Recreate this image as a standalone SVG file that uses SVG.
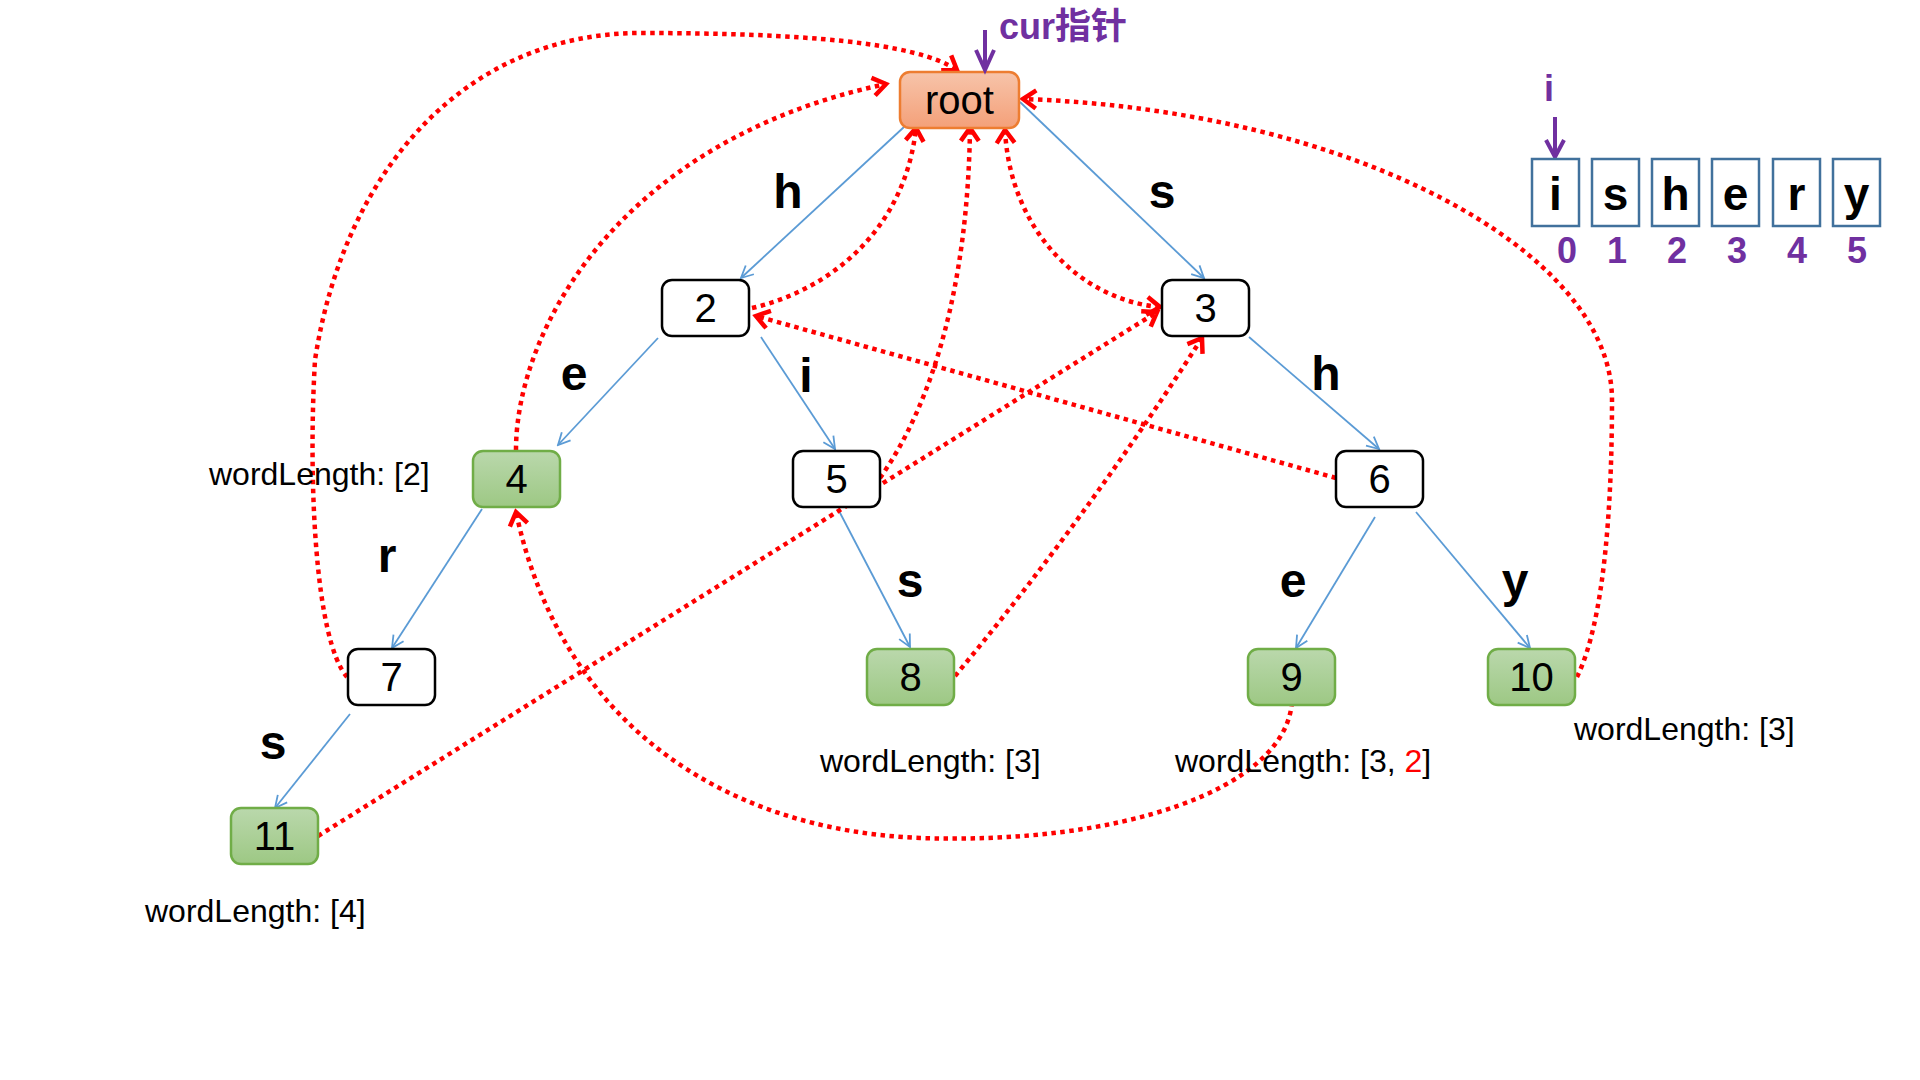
<svg xmlns="http://www.w3.org/2000/svg" width="1920" height="1080" viewBox="0 0 1920 1080">
<defs>
<style>
.node rect{stroke-width:2.5}
.plain{fill:#fff;stroke:#000}
.leaf{fill:url(#gGreen);stroke:#70AD47}
.rootbox{fill:url(#gRoot);stroke:#ED7D31}
.nlabel{font-family:"Liberation Sans",Arial,sans-serif;font-size:40px;text-anchor:middle;fill:#000}
.elabel{font-family:"Liberation Sans",Arial,sans-serif;font-size:48px;font-weight:bold;text-anchor:middle;fill:#000}
.wl{font-family:"Liberation Sans",Arial,sans-serif;font-size:32px;fill:#000}
.tree{fill:none;stroke:#5B9BD5;stroke-width:1.8;marker-end:url(#blueArrow)}
.fail{fill:none;stroke:#FF0000;stroke-width:4.5;stroke-dasharray:4.5 4.5;marker-end:url(#redArrow)}
.purple{fill:#7030A0;font-family:"Liberation Sans",Arial,"Noto Sans CJK SC",sans-serif;font-weight:bold}
.parrow{fill:none;stroke:#7030A0;stroke-width:4}
.cell{fill:#fff;stroke:#41719C;stroke-width:2.5}
.ch{font-family:"Liberation Sans",Arial,sans-serif;font-size:46px;font-weight:bold;text-anchor:middle;fill:#000}
.idx{font-size:36px;text-anchor:middle}
</style>
<linearGradient id="gRoot" x1="0" y1="0" x2="0" y2="1">
<stop offset="0" stop-color="#F7C4AA"/>
<stop offset="1" stop-color="#F4A079"/>
</linearGradient>
<linearGradient id="gGreen" x1="0" y1="0" x2="0" y2="1">
<stop offset="0" stop-color="#BAD8AC"/>
<stop offset="1" stop-color="#9DC884"/>
</linearGradient>
<marker id="blueArrow" markerUnits="userSpaceOnUse" viewBox="-14 -8 16 16" markerWidth="16" markerHeight="16" refX="0" refY="0" orient="auto">
<path d="M-12,-6 L0,0 L-12,6" fill="none" stroke="#5B9BD5" stroke-width="1.8" stroke-dasharray="none"/>
</marker>
<marker id="redArrow" markerUnits="userSpaceOnUse" viewBox="-18 -12 22 24" markerWidth="22" markerHeight="24" refX="0" refY="0" orient="auto-start-reverse">
<path d="M-13,-9 L0,0 L-13,9" fill="none" stroke="#FF0000" stroke-width="4.5" stroke-dasharray="none"/>
</marker>
</defs>
<rect width="1920" height="1080" fill="#fff"/>

<g id="connectors">
<g id="tree-edges">
<path class="tree" d="M904,127 L741,278"/>
<path class="tree" d="M1020,102 L1204,278"/>
<path class="tree" d="M658,338 L558,445"/>
<path class="tree" d="M761,337 L835,449"/>
<path class="tree" d="M1249,337 L1379,449"/>
<path class="tree" d="M482,509 L392,648"/>
<path class="tree" d="M838,509 L910,647"/>
<path class="tree" d="M1375,517 L1296,648"/>
<path class="tree" d="M1416,512 L1530,648"/>
<path class="tree" d="M350,714 L275,808"/>
</g>
<g id="fail-links">
<path class="fail" d="M347,677 C315,640 308,480 315,360 C345,165 470,33 640,33 C800,33 915,42 957,70"/>
<path class="fail" d="M516,450 C516,330 620,140 886,84"/>
<path class="fail" d="M752,308 C830,290 905,230 916,128"/>
<path class="fail" d="M880,478 C935,400 968,280 970,128"/>
<path class="fail" d="M1005,130 C1010,230 1080,300 1160,307" marker-start="url(#redArrow)"/>
<path class="fail" d="M1336,478 L756,316"/>
<path class="fail" d="M955,676 Q1085,520 1202,338"/>
<path class="fail" d="M318,836 L1157,312"/>
<path class="fail" d="M1292,702 C1285,790 1120,845 920,838 C720,830 560,720 516,512"/>
<path class="fail" d="M1577,677 C1605,620 1612,500 1612,400 C1612,250 1350,110 1023,99"/>
</g>
</g>

<g id="node-root" class="node">
<rect class="rootbox" x="900" y="72" width="119" height="56" rx="10"/>
<text class="nlabel" x="959.5" y="114">root</text>
</g>
<g id="node-2" class="node">
<rect class="plain" x="662" y="280" width="87" height="56" rx="10"/>
<text class="nlabel" x="705.5" y="322">2</text>
</g>
<g id="node-3" class="node">
<rect class="plain" x="1162" y="280" width="87" height="56" rx="10"/>
<text class="nlabel" x="1205.5" y="322">3</text>
</g>
<g id="node-4" class="node">
<rect class="leaf" x="473" y="451" width="87" height="56" rx="10"/>
<text class="nlabel" x="516.5" y="493">4</text>
</g>
<g id="node-5" class="node">
<rect class="plain" x="793" y="451" width="87" height="56" rx="10"/>
<text class="nlabel" x="836.5" y="493">5</text>
</g>
<g id="node-6" class="node">
<rect class="plain" x="1336" y="451" width="87" height="56" rx="10"/>
<text class="nlabel" x="1379.5" y="493">6</text>
</g>
<g id="node-7" class="node">
<rect class="plain" x="348" y="649" width="87" height="56" rx="10"/>
<text class="nlabel" x="391.5" y="691">7</text>
</g>
<g id="node-8" class="node">
<rect class="leaf" x="867" y="649" width="87" height="56" rx="10"/>
<text class="nlabel" x="910.5" y="691">8</text>
</g>
<g id="node-9" class="node">
<rect class="leaf" x="1248" y="649" width="87" height="56" rx="10"/>
<text class="nlabel" x="1291.5" y="691">9</text>
</g>
<g id="node-10" class="node">
<rect class="leaf" x="1488" y="649" width="87" height="56" rx="10"/>
<text class="nlabel" x="1531.5" y="691">10</text>
</g>
<g id="node-11" class="node">
<rect class="leaf" x="231" y="808" width="87" height="56" rx="10"/>
<text class="nlabel" x="274.5" y="850">11</text>
</g>

<g id="edge-labels">
<text class="elabel" x="788" y="208">h</text>
<text class="elabel" x="1162" y="208">s</text>
<text class="elabel" x="574" y="390">e</text>
<text class="elabel" x="806" y="392">i</text>
<text class="elabel" x="1326" y="390">h</text>
<text class="elabel" x="387" y="572">r</text>
<text class="elabel" x="910" y="597">s</text>
<text class="elabel" x="1293" y="597">e</text>
<text class="elabel" x="1515" y="597">y</text>
<text class="elabel" x="273" y="759">s</text>
</g>

<g id="word-lengths">
<text class="wl" x="209" y="485">wordLength: [2]</text>
<text class="wl" x="820" y="772">wordLength: [3]</text>
<text class="wl" x="1175" y="772">wordLength: [3, <tspan fill="#FF0000">2</tspan>]</text>
<text class="wl" x="1574" y="740">wordLength: [3]</text>
<text class="wl" x="145" y="922">wordLength: [4]</text>
</g>

<g id="cur-pointer">
<text class="purple" x="999" y="39" font-size="36">cur指针</text>
<path class="parrow" d="M985,30 L985,70 M976,50 L985,70 L994,50"/>
</g>

<g id="string-array">
<text class="purple" x="1549" y="101" font-size="36" text-anchor="middle">i</text>
<path class="parrow" d="M1555,117 L1555,157 M1546,140 L1555,157 L1564,140"/>
<rect class="cell" x="1532" y="159" width="47" height="67"/>
<rect class="cell" x="1592" y="159" width="47" height="67"/>
<rect class="cell" x="1652" y="159" width="47" height="67"/>
<rect class="cell" x="1712" y="159" width="47" height="67"/>
<rect class="cell" x="1773" y="159" width="47" height="67"/>
<rect class="cell" x="1833" y="159" width="47" height="67"/>
<text class="ch" x="1555.5" y="210">i</text>
<text class="ch" x="1615.5" y="210">s</text>
<text class="ch" x="1675.5" y="210">h</text>
<text class="ch" x="1735.5" y="210">e</text>
<text class="ch" x="1796.5" y="210">r</text>
<text class="ch" x="1856.5" y="210">y</text>
<text class="purple idx" x="1567" y="263">0</text>
<text class="purple idx" x="1617" y="263">1</text>
<text class="purple idx" x="1677" y="263">2</text>
<text class="purple idx" x="1737" y="263">3</text>
<text class="purple idx" x="1797" y="263">4</text>
<text class="purple idx" x="1857" y="263">5</text>
</g>
</svg>
